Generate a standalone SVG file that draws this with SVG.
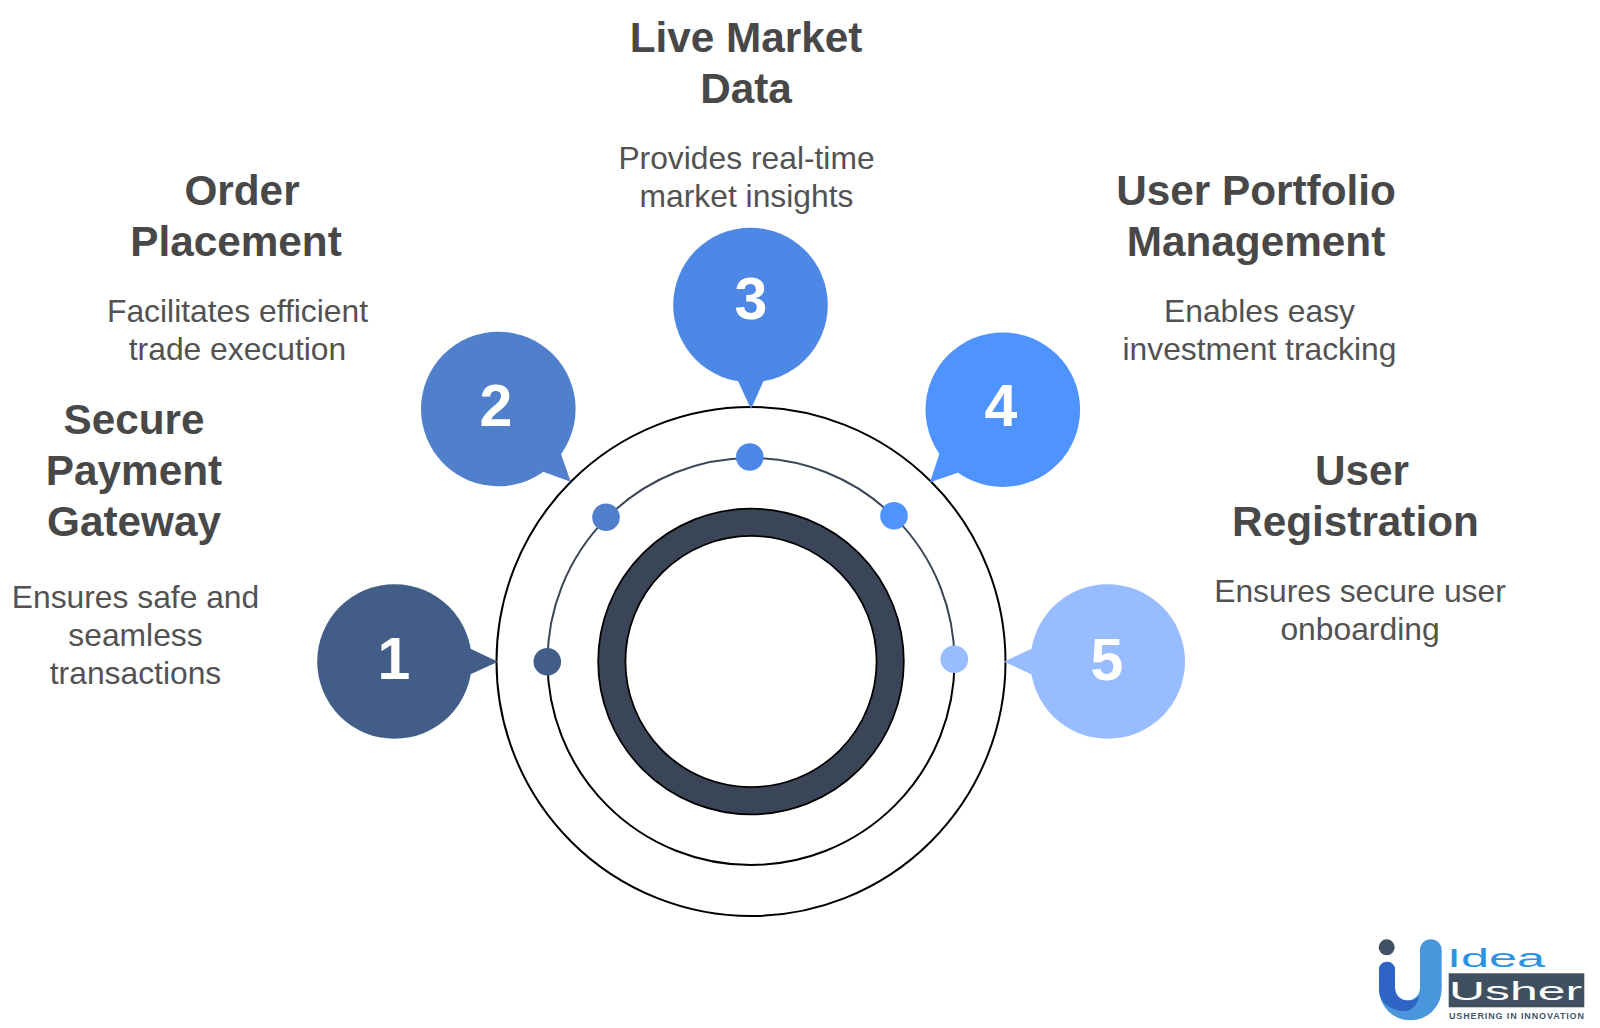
<svg xmlns="http://www.w3.org/2000/svg" width="1600" height="1028" viewBox="0 0 1600 1028">
<style>
text{font-family:"Liberation Sans",Arial,sans-serif;text-anchor:middle}
.t{font-size:42.300px;font-weight:700;fill:#484848}
.b{font-size:31.800px;fill:#525252}
.n{font-size:59px;font-weight:700;fill:#fff}
.ring{fill:none;stroke:#000;stroke-width:2}
.l{text-anchor:start}
</style>
<rect width="1600" height="1028" fill="#fff"/>
<g id="rings">
<circle class="ring" cx="751" cy="661.5" r="254.5"/>
<path d="M547.5 661.5A203.5 203.5 0 0 0 954.5 661.5" class="ring"/>
<path d="M547.5 661.5A203.5 203.5 0 0 1 954.5 661.5" fill="none" stroke="#3b4558" stroke-width="2"/>
<circle cx="751" cy="661.5" r="139.2" fill="none" stroke="#000" stroke-width="29"/>
<circle cx="751" cy="661.5" r="139.2" fill="none" stroke="#3b4558" stroke-width="25.500"/>
</g>
<g id="connectors">
<circle cx="547.3" cy="661.7" r="13.8" fill="#425d87"/>
<circle cx="606" cy="517.3" r="13.8" fill="#5080cc"/>
<circle cx="749.8" cy="457" r="13.8" fill="#4d88e6"/>
<circle cx="894" cy="515.7" r="13.8" fill="#4f93ff"/>
<circle cx="954.3" cy="659.3" r="13.8" fill="#97bcff"/>
</g>
<g id="node1">
<circle cx="394.5" cy="661.5" r="77.3" fill="#425d87"/><polygon points="498,661.7 469,648 469,675" fill="#425d87"/>
<text class="n" x="394" y="679">1</text>
<text class="t"><tspan x="134" y="434">Secure</tspan><tspan x="134" y="485">Payment</tspan><tspan x="134" y="536">Gateway</tspan></text>
<text class="b"><tspan x="135.500" y="608">Ensures safe and</tspan><tspan x="135.500" y="646">seamless</tspan><tspan x="135.500" y="684">transactions</tspan></text>
</g>
<g id="node2">
<circle cx="498.300" cy="409" r="77.3" fill="#5080cc"/><polygon points="570.700,481.700 560,451 541,471" fill="#5080cc"/>
<text class="n" x="496" y="425.500">2</text>
<text class="t"><tspan x="242" y="205">Order</tspan><tspan x="236" y="256">Placement</tspan></text>
<text class="b"><tspan x="237.500" y="322">Facilitates efficient</tspan><tspan x="237.500" y="360">trade execution</tspan></text>
</g>
<g id="node3">
<circle cx="750.500" cy="305" r="77.3" fill="#4d88e6"/><polygon points="751,409 737,379 764.500,379" fill="#4d88e6"/>
<text class="n" x="751" y="319">3</text>
<text class="t"><tspan x="746" y="52">Live Market</tspan><tspan x="746" y="103">Data</tspan></text>
<text class="b"><tspan x="746.500" y="169">Provides real-time</tspan><tspan x="746.500" y="207">market insights</tspan></text>
</g>
<g id="node4">
<circle cx="1002.800" cy="409.700" r="77.3" fill="#4f93ff"/><polygon points="930,482.300 940,452 960,472" fill="#4f93ff"/>
<text class="n" x="1001" y="425.500">4</text>
<text class="t"><tspan x="1256" y="205">User Portfolio</tspan><tspan x="1256" y="256">Management</tspan></text>
<text class="b"><tspan x="1259.500" y="322">Enables easy</tspan><tspan x="1259.500" y="360">investment tracking</tspan></text>
</g>
<g id="node5">
<circle cx="1107.700" cy="661.500" r="77.3" fill="#97bcff"/><polygon points="1004,661.700 1033,648 1033,675" fill="#97bcff"/>
<text class="n" x="1107" y="680">5</text>
<text class="t"><tspan x="1362" y="485">User</tspan><tspan x="1355.500" y="536">Registration</tspan></text>
<text class="b"><tspan x="1360" y="602">Ensures secure user</tspan><tspan x="1360" y="640">onboarding</tspan></text>
</g>
<g id="logo">
<circle cx="1386.700" cy="947.300" r="8" fill="#3f5163"/>
<path d="M1379 969.700a8 8 0 0 1 16 0V988a12.500 12.500 0 0 0 25 0V950a10.800 10.800 0 0 1 21.700 0V989a31.300 31.300 0 0 1-62.700 0Z" fill="#4a96dc"/>
<path d="M1379 969.700a8 8 0 0 1 16 0V988c0 8 6 12.500 13 12.500 5 0 9-2 11-5-1 8-6 14.500-13 15.500-15 0-27-8-27-22Z" fill="#2f63c4"/>
<rect x="1448.700" y="973.300" width="135.600" height="34" fill="#3f5060"/>
<text class="l" x="1447" y="967" textLength="98" lengthAdjust="spacingAndGlyphs" style="font-size:26px;fill:#2b94e0">Idea</text>
<text class="l" x="1449" y="1000" textLength="133" lengthAdjust="spacingAndGlyphs" style="font-size:25px;fill:#fff">Usher</text>
<text class="l" x="1449" y="1019" textLength="135" style="font-size:9px;font-weight:700;fill:#44566a">USHERING IN INNOVATION</text>
</g>
</svg>
